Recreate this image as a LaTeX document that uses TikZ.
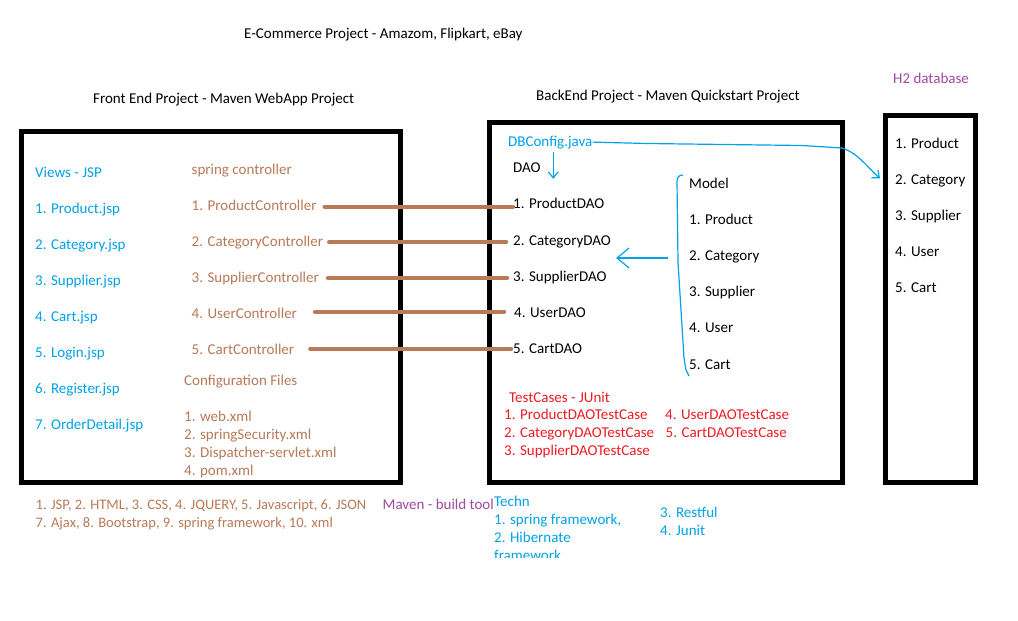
\documentclass[tikz,border=0pt]{standalone}
\usepackage{fontspec}
\setmainfont{Carlito}
\usetikzlibrary{arrows.meta,calc}
\definecolor{pblue}{HTML}{00A2E8}
\definecolor{pbrown}{HTML}{B97A57}
\definecolor{pred}{HTML}{ED1C24}
\definecolor{ppurple}{HTML}{A349A4}
\tikzset{
  txt/.style={anchor=base west,inner sep=0pt,font=\fontsize{15}{18}\selectfont},
  blu/.style={txt,text=pblue},
  brn/.style={txt,text=pbrown},
  rd/.style={txt,text=pred},
  pur/.style={txt,text=ppurple},
  blk/.style={txt,text=black},
  narrow/.style={font=\fontsize{14.5}{18}\selectfont},
  frame/.style={draw=black,line width=5pt,inner sep=0pt,minimum width=#1},
  wire/.style={draw=pbrown,line width=4.5pt,line cap=round},
  bline/.style={draw=pblue,line width=1.2pt},
  barrowsmall/.style={bline,-{Straight Barb[length=6pt,width=10pt]}},
  barrowbig/.style={bline,-{Straight Barb[length=12pt,width=20pt]}}
}
\begin{document}
\begin{tikzpicture}[x=1pt,y=-1pt]
\useasboundingbox[fill=white] (0,0) rectangle (1018,621);
% boxes
\node[frame=378.5pt,minimum height=351pt] (fe) at (210.75,307) {};
\node[frame=353pt,minimum height=360pt] (be) at (666,302.5) {};
\node[frame=90pt,minimum height=367pt] (h2box) at (930.5,299) {};
% headings
\node[blk] (title) at (244,38) {E-Commerce Project - Amazom, Flipkart, eBay};
\node[blk] (feh) at (93,103) {Front End Project - Maven WebApp Project};
\node[blk] (beh) at (536,100) {BackEnd Project - Maven Quickstart Project};
\node[pur] (h2h) at (893,83) {H2 database};
% views
\node[blu] (v0) at (35,177) {Views - JSP};
\node[blu] (v1) at (35,213) {1. Product.jsp};
\node[blu] (v2) at (35,249) {2. Category.jsp};
\node[blu] (v3) at (35,285) {3. Supplier.jsp};
\node[blu] (v4) at (35,321) {4. Cart.jsp};
\node[blu] (v5) at (35,357) {5. Login.jsp};
\node[blu] (v6) at (35,393) {6. Register.jsp};
\node[blu] (v7) at (35,429) {7. OrderDetail.jsp};
% controllers
\node[brn] (c0) at (191.5,174) {spring controller};
\node[brn] (c1) at (191.5,210) {1. ProductController};
\node[brn] (c2) at (191.5,246) {2. CategoryController};
\node[brn] (c3) at (191.5,282) {3. SupplierController};
\node[brn] (c4) at (191.5,318) {4. UserController};
\node[brn] (c5) at (191.5,354) {5. CartController};
\node[brn] (cf0) at (184,385) {Configuration Files};
\node[brn] (cf1) at (184,421) {1. web.xml};
\node[brn] (cf2) at (184,439) {2. springSecurity.xml};
\node[brn] (cf3) at (184,457) {3. Dispatcher-servlet.xml};
\node[brn] (cf4) at (184,475) {4. pom.xml};
% backend
\node[blu] (dbc) at (508,146) {DBConfig.java};
\node[blk] (dao) at (513,172) {DAO};
\node[blk] (d1) at (513,208) {1. ProductDAO};
\node[blk] (d2) at (513,245) {2. CategoryDAO};
\node[blk] (d3) at (513,281) {3. SupplierDAO};
\node[blk] (d4) at (514,317) {4. UserDAO};
\node[blk] (d5) at (513,353) {5. CartDAO};
\node[blk] (m0) at (689,188) {Model};
\node[blk] (m1) at (689,224) {1. Product};
\node[blk] (m2) at (689,260) {2. Category};
\node[blk] (m3) at (689,296.5) {3. Supplier};
\node[blk] (m4) at (689,332.5) {4. User};
\node[blk] (m5) at (689,369) {5. Cart};
\node[rd] (t0) at (509,402) {TestCases - JUnit};
\node[rd] (t1) at (504,419) {1. ProductDAOTestCase};
\node[rd] (t2) at (504,437) {2. CategoryDAOTestCase};
\node[rd] (t3) at (504,455) {3. SupplierDAOTestCase};
\node[rd] (t4) at (665,419) {4. UserDAOTestCase};
\node[rd] (t5) at (665.5,437) {5. CartDAOTestCase};
% H2 tables
\node[blk] (h1) at (895,148) {1. Product};
\node[blk] (h2c) at (895,184) {2. Category};
\node[blk] (h3) at (895,220) {3. Supplier};
\node[blk] (h4) at (895,256) {4. User};
\node[blk] (h5) at (895,292) {5. Cart};
% bottom
\node[brn,narrow] (tech1) at (35.5,509) {1. JSP, 2. HTML, 3. CSS, 4. JQUERY, 5. Javascript, 6. JSON};
\node[brn,narrow] (tech2) at (35.5,527) {7. Ajax, 8. Bootstrap, 9. spring framework, 10. xml};
\node[pur] (mvn) at (382.5,509) {Maven - build tool};
\node[blu] (bt0) at (494,506) {Techn};
\node[blu] (bt1) at (494,524) {1. spring framework,};
\node[blu] (bt2) at (494,542) {2. Hibernate};
\begin{scope}
\clip (0,0) rectangle (1018,557);
\node[blu] (bt2b) at (494,560) {framework};
\end{scope}
\node[blu] (bt3) at (660,517) {3. Restful};
\node[blu] (bt4) at (660,535) {4. Junit};
% brown connectors
\draw[wire] ([xshift=8pt,yshift=-2pt]c1.east) -- ([yshift=-2pt]c1.east -| d1.west);
\draw[wire] ([xshift=6pt,yshift=0pt]c2.east) -- ([xshift=-7pt]c2.east -| d2.west);
\draw[wire] ([xshift=9pt,yshift=0pt]c3.east) -- ([xshift=-6pt]c3.east -| d3.west);
\draw[wire] ([xshift=18pt,yshift=1pt]c4.east) -- ([xshift=-10pt,yshift=1pt]c4.east -| d4.west);
\draw[wire] ([xshift=16pt,yshift=0pt]c5.east) -- ([xshift=-2pt]c5.east -| d5.west);
% blue connectors
\draw[barrowsmall] ([xshift=3pt,yshift=-3pt]dbc.south) -- ++(0,27);
\coordinate (h2in) at ([xshift=-3pt,yshift=2pt]h2box.west |- h2c.west);
\draw[barrowsmall] (dbc.east) -- (647,143.5) -- (802,145.5) -- (842,148)
  .. controls (858,153) and (868,168) .. (h2in);
\draw[bline] (683,175) .. controls (679,175) and (677,177) .. (677,182)
  -- (678,262) -- (684,358) -- (686,370) -- (689,376);
\coordinate (mb) at (668,258);
\coordinate (cdt) at ([xshift=5pt]d2.east);
\draw[barrowbig] (mb) -- (mb -| cdt);
\end{tikzpicture}
\end{document}
